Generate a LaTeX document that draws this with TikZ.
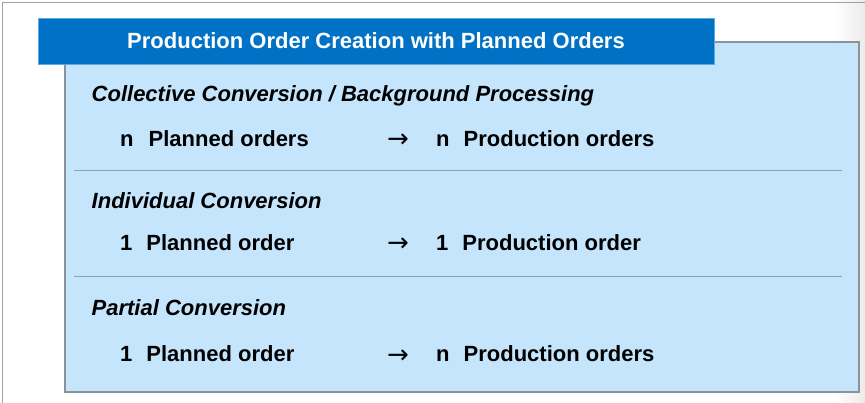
\documentclass[tikz,border=0pt]{standalone}
\usepackage{fontspec}
\setmainfont{Liberation Sans}
\newfontfamily\arrowfont{DejaVu Sans}
\definecolor{titleblue}{RGB}{0,114,198}
\definecolor{titleedge}{RGB}{90,170,230}
\definecolor{panelblue}{RGB}{196,229,252}
\definecolor{paneledge}{RGB}{140,146,152}
\definecolor{sepgray}{RGB}{150,160,170}
\definecolor{framegray}{RGB}{160,160,160}
\tikzset{
  panel/.style={draw=paneledge,line width=1.2pt,fill=panelblue,minimum width=794pt,minimum height=350pt,inner sep=0pt},
  titlebox/.style={draw=titleedge,line width=0.8pt,fill=titleblue,minimum width=676pt,minimum height=46pt,inner sep=0pt,text=white,font=\fontsize{22}{26}\selectfont\bfseries},
  heading/.style={anchor=base west,inner sep=0pt,font=\fontsize{22}{26}\selectfont\bfseries\itshape},
  rowtext/.style={anchor=base west,inner sep=0pt,font=\fontsize{22}{26}\selectfont\bfseries},
  arrowtext/.style={anchor=base west,inner sep=0pt,font=\fontsize{26}{30}\arrowfont\selectfont},
  sepline/.style={draw=sepgray,line width=1pt}
}
\begin{document}
\begin{tikzpicture}[x=1pt,y=-1pt]
\useasboundingbox (0,0) rectangle (865,403);
\fill[white] (0,0) rectangle (865,403);
\shade[left color=white,right color=black!8] (835,0) rectangle (865,403);
\draw[framegray,line width=1.5pt] (2.5,403) -- (2.5,2.5) -- (865,2.5);
\node[panel] (panel) at (462,217) {};
\node[titlebox] (title) at (376,41) {Production Order Creation with Planned Orders};
\coordinate (s1a) at (74,171);
\coordinate (s1b) at (842,171);
\coordinate (s2a) at (74,277);
\coordinate (s2b) at (842,277);
\draw[sepline] (s1a) -- (s1b);
\draw[sepline] (s2a) -- (s2b);
\node[heading] (h1) at (91.5,102) {Collective Conversion / Background Processing};
\node[rowtext] (l1) at (120,147) {n\hspace{15pt}Planned orders};
\node[arrowtext] (a1) at (387,148) {→};
\node[rowtext] (r1) at (436,147) {n\hspace{14pt}Production orders};
\node[heading] (h2) at (91.5,209) {Individual Conversion};
\node[rowtext] (l2) at (120,251) {1\hspace{14pt}Planned order};
\node[arrowtext] (a2) at (387,252) {→};
\node[rowtext] (r2) at (436,251) {1\hspace{14pt}Production order};
\node[heading] (h3) at (91.5,316) {Partial Conversion};
\node[rowtext] (l3) at (120,362) {1\hspace{14pt}Planned order};
\node[arrowtext] (a3) at (387,363) {→};
\node[rowtext] (r3) at (436,362) {n\hspace{14pt}Production orders};
\end{tikzpicture}
\end{document}
